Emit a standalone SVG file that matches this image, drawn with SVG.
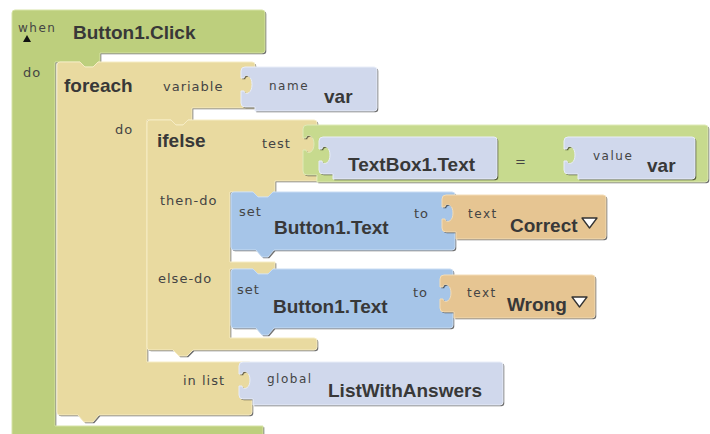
<svg xmlns="http://www.w3.org/2000/svg" xmlns:xlink="http://www.w3.org/1999/xlink" width="710" height="434" viewBox="0 0 710 434">
<style>
.sh{fill:#000;opacity:.55}
.green{fill:#bdcf7d;stroke:#d6e3a6;stroke-width:1}
.green2{fill:#c7da8e;stroke:#dfeab7;stroke-width:1}
.yel{fill:#e9daa0;stroke:#f6ecc4;stroke-width:1}
.lav{fill:#d0d8ec;stroke:#e8edf8;stroke-width:1}
.blue{fill:#a6c5e8;stroke:#c8dcf3;stroke-width:1}
.org{fill:#e6c592;stroke:#f3dcb6;stroke-width:1}
.lbl{font-family:"DejaVu Sans",sans-serif;font-size:13px;letter-spacing:1px;fill:#444}
.sm{font-size:12px;letter-spacing:1.5px}
.b{font-family:"Liberation Sans",Arial,sans-serif;font-weight:bold;font-size:19px;fill:#383838}
.dd{fill:#fff;stroke:#333;stroke-width:1.3;stroke-linejoin:round}
</style>
<defs>
<path id="pWhen" d="M15,10 H262 Q265,10 265,13 V50 Q265,53 262,53 H100 V62 H98 L93,67 H85 L80,62 H55 V426 H263 V440 H12 V13 Q12,10 15,10 Z"/>
<path id="pForeach" d="M60,62 H80 L85,67 H93 L98,62 H252 Q255,62 255,65 V108 H192 V120 H188 L183,125 H176 L171,120 H147 V362 H249 Q252,362 252,365 V412 Q252,415 249,415 H99 L93,422 H84 L78,415 H60 Q57,415 57,412 V65 Q57,62 60,62 Z"/>
<path id="pName" d="M255,67 H374 Q377,67 377,70 V108 Q377,111 374,111 H255 V107 H245 Q241,107 241,103 V91 H244 C244,95 252,95 252,84.5 C252,74 244,74 244,78 H241 V71 Q241,67 245,67 Z"/>
<path id="pIfelse" d="M150,120 H171 L176,125 H183 L188,120 H314 Q317,120 317,123 V181 H275 V192 H273 L268,197 H258 L253,192 H230 V262 H275 V269 H273 L268,274 H258 L253,269 H230 V338 H314 Q317,338 317,341 V347 Q317,350 314,350 H193 L187,356 H179 L173,350 H150 Q147,350 147,347 V123 Q147,120 150,120 Z"/>
<path id="pCompare" d="M317,125 H705 Q708,125 708,128 V179 Q708,182 705,182 H317 V175 H307 Q303,175 303,171 V150 H306 C306,154 314,154 314,144 C314,134 306,134 306,138 H303 V129 Q303,125 307,125 Z"/>
<path id="pTextBox" d="M333,137 H494 Q497,137 497,140 V176 Q497,179 494,179 H333 V174 H323 Q319,174 319,170 V161 H322 C322,165 330,165 330,155 C330,145 322,145 322,149 H319 V141 Q319,137 323,137 Z"/>
<path id="pValue" d="M578,137 H692 Q695,137 695,140 V176 Q695,179 692,179 H578 V174 H568 Q564,174 564,170 V161 H567 C567,165 575,165 575,155 C575,145 567,145 567,149 H564 V141 Q564,137 568,137 Z"/>
<path id="pSet1" d="M234,192 H253 L258,197 H268 L273,192 H452 Q455,192 455,195 V247 Q455,250 452,250 H274 L268,257 H262 L256,250 H234 Q231,250 231,247 V195 Q231,192 234,192 Z"/>
<path id="pCorrect" d="M456,195 H603 Q606,195 606,198 V236 Q606,239 603,239 H456 V232 H446 Q442,232 442,228 V219 H445 C445,223 453,223 453,213 C453,203 445,203 445,207 H442 V199 Q442,195 446,195 Z"/>
<path id="pSet2" d="M234,269 H253 L258,274 H268 L273,269 H450 Q453,269 453,272 V325 Q453,328 450,328 H274 L268,335 H262 L256,328 H234 Q231,328 231,325 V272 Q231,269 234,269 Z"/>
<path id="pWrong" d="M454,275 H592 Q595,275 595,278 V315 Q595,318 592,318 H454 V312 H444 Q440,312 440,308 V299 H443 C443,303 451,303 451,293 C451,283 443,283 443,287 H440 V279 Q440,275 444,275 Z"/>
<path id="pGlobal" d="M253,362 H500 Q503,362 503,365 V402 Q503,405 500,405 H253 V399 H243 Q239,399 239,395 V386 H242 C242,390 250,390 250,380 C250,370 242,370 242,374 H239 V366 Q239,362 243,362 Z"/>
</defs>
<rect width="710" height="434" fill="#fff"/>

<g id="when-block">
<use xlink:href="#pWhen" class="sh" transform="translate(1.3,1.3)"/>
<use xlink:href="#pWhen" class="green"/>
<text class="lbl sm" x="18" y="32">when</text>
<polygon points="23,42 31,42 27,35" fill="#111"/>
<text class="b" x="73" y="39">Button1.Click</text>
<text class="lbl" x="23" y="77">do</text>
</g>

<g id="foreach-block">
<use xlink:href="#pForeach" class="sh" transform="translate(1.3,1.3)"/>
<use xlink:href="#pForeach" class="yel"/>
<text class="b" x="64" y="92">foreach</text>
<text class="lbl" x="163" y="91">variable</text>
<text class="lbl" x="115" y="134">do</text>
<text class="lbl" x="183" y="385">in list</text>
</g>

<g id="name-block">
<use xlink:href="#pName" class="sh" transform="translate(1.3,1.3)"/>
<use xlink:href="#pName" class="lav"/>
<text class="lbl sm" x="269" y="90">name</text>
<text class="b" x="324" y="103">var</text>
</g>

<g id="ifelse-block">
<use xlink:href="#pIfelse" class="sh" transform="translate(1.3,1.3)"/>
<use xlink:href="#pIfelse" class="yel"/>
<text class="b" x="157" y="147">ifelse</text>
<text class="lbl" x="262" y="148">test</text>
<text class="lbl" x="160" y="205">then-do</text>
<text class="lbl" x="158" y="283">else-do</text>
</g>

<g id="compare-block">
<use xlink:href="#pCompare" class="sh" transform="translate(1.3,1.3)"/>
<use xlink:href="#pCompare" class="green2"/>
<text class="lbl" x="515" y="166">=</text>
</g>

<g id="textbox-block">
<use xlink:href="#pTextBox" class="sh" transform="translate(1.3,1.3)"/>
<use xlink:href="#pTextBox" class="lav"/>
<text class="b" x="348" y="171">TextBox1.Text</text>
</g>

<g id="value-block">
<use xlink:href="#pValue" class="sh" transform="translate(1.3,1.3)"/>
<use xlink:href="#pValue" class="lav"/>
<text class="lbl sm" x="593" y="160">value</text>
<text class="b" x="647" y="172">var</text>
</g>

<g id="set1-block">
<use xlink:href="#pSet1" class="sh" transform="translate(1.3,1.3)"/>
<use xlink:href="#pSet1" class="blue"/>
<text class="lbl" x="239" y="216">set</text>
<text class="lbl" x="414" y="218">to</text>
<text class="b" x="274" y="234">Button1.Text</text>
</g>

<g id="correct-block">
<use xlink:href="#pCorrect" class="sh" transform="translate(1.3,1.3)"/>
<use xlink:href="#pCorrect" class="org"/>
<text class="lbl sm" x="468" y="218">text</text>
<text class="b" x="510" y="232">Correct</text>
<polygon class="dd" points="582,218 597,218 589.5,228"/>
</g>

<g id="set2-block">
<use xlink:href="#pSet2" class="sh" transform="translate(1.3,1.3)"/>
<use xlink:href="#pSet2" class="blue"/>
<text class="lbl" x="237" y="294">set</text>
<text class="lbl" x="413" y="297">to</text>
<text class="b" x="273" y="313">Button1.Text</text>
</g>

<g id="wrong-block">
<use xlink:href="#pWrong" class="sh" transform="translate(1.3,1.3)"/>
<use xlink:href="#pWrong" class="org"/>
<text class="lbl sm" x="467" y="297">text</text>
<text class="b" x="507" y="311">Wrong</text>
<polygon class="dd" points="572,297 587,297 579.5,307"/>
</g>

<g id="global-block">
<use xlink:href="#pGlobal" class="sh" transform="translate(1.3,1.3)"/>
<use xlink:href="#pGlobal" class="lav"/>
<text class="lbl sm" x="267" y="383">global</text>
<text class="b" x="328" y="397">ListWithAnswers</text>
</g>

<g id="connectors"></g>
</svg>
